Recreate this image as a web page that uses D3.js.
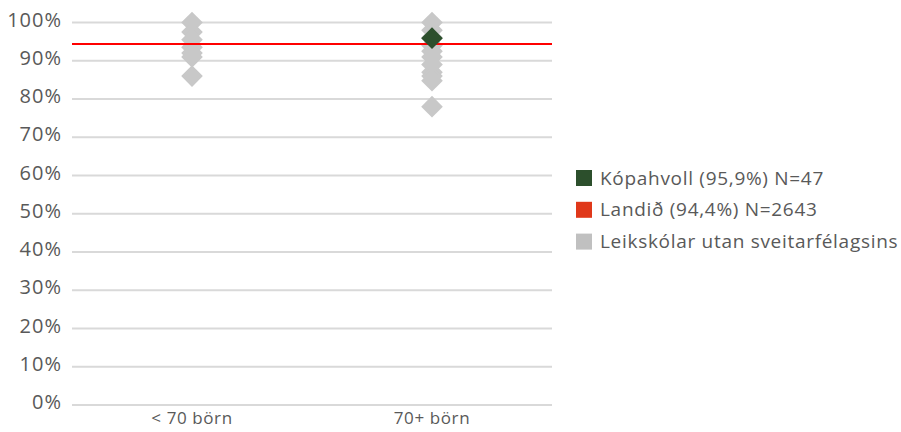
<!DOCTYPE html>
<html><head><meta charset="utf-8">
<script src="https://cdn.jsdelivr.net/npm/d3@7"></script>
<style>body{margin:0;background:#fff}svg{display:block}text{font-family:"Open Sans","Noto Sans",sans-serif}</style>
</head><body><svg id="c" width="901" height="432"></svg>
<script>
const categories = ["< 70 börn", "70+ börn"];
const otherSmall = [100, 97.5, 95.5, 93.5, 92, 91, 86];
const otherLarge = [100, 98, 96, 94, 92.5, 91, 89, 87, 86, 84.8, 78];
const municipality = {label: "Kópahvoll (95,9%) N=47", category: "70+ börn", value: 95.9};
const national = {label: "Landið (94,4%) N=2643", value: 94.4};
const otherLabel = "Leikskólar utan sveitarfélagsins";
const yTicks = [0,10,20,30,40,50,60,70,80,90,100];

const svg = d3.select("#c");
const x = d3.scaleBand().domain(categories).range([72, 552]);
const y = d3.scaleLinear().domain([0, 100]).range([405, 22.5]);
const textCol = "#595959";

svg.append("g").selectAll("line").data(yTicks).join("line")
  .attr("x1", 72).attr("x2", 552)
  .attr("y1", d => y(d)).attr("y2", d => y(d))
  .attr("stroke", "#d9d9d9").attr("stroke-width", 2);

svg.append("g").selectAll("text").data(yTicks).join("text")
  .attr("x", 62).attr("y", d => y(d) - 3).attr("dy", "0.35em")
  .attr("text-anchor", "end").attr("font-size", 20).attr("letter-spacing", 1).attr("fill", textCol)
  .text(d => d + "%");

svg.append("g").selectAll("text").data(categories).join("text")
  .attr("x", d => x(d) + x.bandwidth()/2).attr("y", 424)
  .attr("text-anchor", "middle").attr("font-size", 17).attr("letter-spacing", 0.6).attr("fill", textCol)
  .text(d => d);

const diamond = d3.symbol().type(d3.symbolSquare).size(235);
const others = [
  ...otherSmall.map(v => ({c: categories[0], v})),
  ...otherLarge.map(v => ({c: categories[1], v}))
];
svg.append("g").selectAll("path").data(others).join("path")
  .attr("d", diamond)
  .attr("transform", d => `translate(${x(d.c) + x.bandwidth()/2},${y(d.v)}) rotate(45)`)
  .attr("fill", "#c8c8c8");

svg.append("line").attr("x1", 72).attr("x2", 552)
  .attr("y1", y(national.value)).attr("y2", y(national.value))
  .attr("stroke", "#ff0000").attr("stroke-width", 2);

svg.append("path").attr("d", diamond)
  .attr("transform", `translate(${x(municipality.category) + x.bandwidth()/2},${y(municipality.value)}) rotate(45)`)
  .attr("fill", "#2c4f2c");

const legend = [
  {label: municipality.label, color: "#2c4f2c"},
  {label: national.label, color: "#e0381a"},
  {label: otherLabel, color: "#c0c0c0"}
];
const lg = svg.append("g").selectAll("g").data(legend).join("g")
  .attr("transform", (d, i) => `translate(576,${178 + i*31.8})`);
lg.append("rect").attr("x", 0).attr("y", -8).attr("width", 16).attr("height", 16).attr("fill", d => d.color);
lg.append("text").attr("x", 24).attr("y", 0).attr("dy", "0.35em")
  .attr("font-size", 19).attr("letter-spacing", 0.7).attr("fill", textCol).text(d => d.label);
</script></body></html>
